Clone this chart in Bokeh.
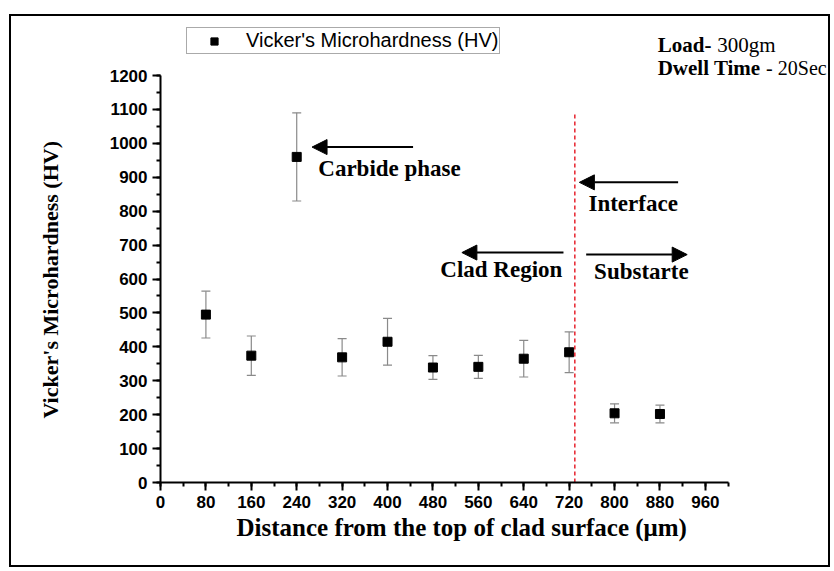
from bokeh.plotting import figure
from bokeh.models import (ColumnDataSource, Range1d, FixedTicker, Whisker, TeeHead,
                          Arrow, NormalHead, Label, Legend, LegendItem, Title)
from bokeh.core.properties import value
from bokeh.embed import file_html
from bokeh.resources import INLINE

# ---- data ----
distance = [80, 160, 240, 320, 400, 480, 560, 640, 720, 800, 880]
hardness = [495, 374, 960, 369, 415, 339, 341, 365, 384, 204, 202]
hv_error = [69, 58, 130, 55, 69, 35, 34, 54, 60, 28, 26]

x_ticks = list(range(0, 961, 80))
x_minor = list(range(0, 1001, 40))
y_ticks = list(range(0, 1201, 100))
y_minor = list(range(0, 1201, 50))

interface_x = [730]
interface_top = [1091]

arrow_x_start = [445, 912, 710, 750]
arrow_x_end = [267, 738, 531, 928]
arrow_y = [989, 885, 678, 672]

note_text = ["Carbide phase", "Interface", "Clad Region", "Substarte"]
note_x = [278, 754, 493, 764]
note_y = [926, 823, 628, 622]

SERIF = "Liberation Serif"
SANS = "Liberation Sans"

p = figure(width=821, height=553, output_backend="svg", toolbar_location=None,
           x_range=Range1d(0, 1184), y_range=Range1d(0, 1374),
           min_border_left=149, min_border_right=0, min_border_top=0, min_border_bottom=87)
p.styles = {"border": "2px solid black", "margin-left": "9px", "margin-top": "14px"}
p.outline_line_color = None
p.grid.visible = False
p.background_fill_color = "white"
p.border_fill_color = "white"

for ax, ticks, minor, bounds in ((p.xaxis, x_ticks, x_minor, (0, 1000)),
                                 (p.yaxis, y_ticks, y_minor, (0, 1200))):
    ax.ticker = FixedTicker(ticks=ticks, minor_ticks=minor)
    ax.bounds = bounds
    ax.axis_line_width = 2
    ax.axis_line_color = "black"
    ax.major_tick_line_width = 2
    ax.minor_tick_line_width = 2
    ax.major_tick_out = 8
    ax.major_tick_in = 0
    ax.minor_tick_out = 4
    ax.minor_tick_in = 0
    ax.major_label_text_font = SANS
    ax.major_label_text_font_style = "bold"
    ax.major_label_text_font_size = "17px"
    ax.major_label_text_color = "black"
    ax.major_label_standoff = 5

# x title placed as a side-panel title (frame extends past the axis bounds)
p.add_layout(Title(text="Distance from the top of clad surface (\u03bcm)", align="left", offset=76,
                   standoff=2, text_font=SERIF, text_font_style="bold", text_font_size="25px",
                   text_color="black"), "below")

# y title as axis label; trailing no-break spaces shift it down to sit over the 0-1200 span
p.yaxis.axis_label = "Vicker's Microhardness (HV)" + "\u00a0" * 11
p.yaxis.axis_label_text_font = SERIF
p.yaxis.axis_label_text_font_style = "bold"
p.yaxis.axis_label_text_font_size = "22px"
p.yaxis.axis_label_text_color = "black"
p.yaxis.axis_label_standoff = 44

src = ColumnDataSource(dict(
    x=distance, y=hardness,
    upper=[h + e for h, e in zip(hardness, hv_error)],
    lower=[h - e for h, e in zip(hardness, hv_error)],
))

ecol = "#8a8a8a"
wh = Whisker(source=src, base="x", upper="upper", lower="lower", line_color=ecol, line_width=1.2,
             upper_head=TeeHead(size=9, line_color=ecol, line_width=1.2),
             lower_head=TeeHead(size=9, line_color=ecol, line_width=1.2), level="underlay")
p.add_layout(wh)

pts = p.scatter("x", "y", source=src, marker="square", size=9, fill_color="black", line_color="black")

# interface dashed line
p.segment(x0=interface_x, y0=[0], x1=interface_x, y1=interface_top,
          line_color="#e8323c", line_width=1.6, line_dash="4 3")

# arrows
asrc = ColumnDataSource(dict(xs=arrow_x_start, xe=arrow_x_end, y=arrow_y))
p.add_layout(Arrow(source=asrc, x_start="xs", y_start="y", x_end="xe", y_end="y",
                   line_color="black", line_width=2,
                   end=NormalHead(size=15, fill_color="black", line_color="black")))

# notes
nsrc = ColumnDataSource(dict(x=note_x, y=note_y, t=note_text))
p.text(x="x", y="y", text="t", source=nsrc, text_font=value(SERIF), text_font_style="bold",
       text_font_size="23px", text_color="black", text_baseline="alphabetic")

# load / dwell notes
for txt, x, y, style, size in (("Load-", 876, 1289, "bold", "21px"), ("300gm", 981, 1289, "normal", "21px"),
                               ("Dwell Time", 876, 1221, "bold", "21px"), ("- 20Sec", 1067, 1221, "normal", "20px")):
    p.add_layout(Label(x=x, y=y, text=txt, text_font=SERIF, text_font_style=style,
                       text_font_size=size, text_color="black", text_baseline="alphabetic"))

legend = Legend(items=[LegendItem(label="Vicker's Microhardness (HV)", renderers=[pts])],
                location=(26, 428), padding=1, margin=0, glyph_width=52, glyph_height=18,
                label_standoff=6, label_text_font=SANS, label_text_font_size="20px",
                label_text_color="black", border_line_color="#555555", border_line_width=1,
                background_fill_alpha=1)
p.add_layout(legend, "center")

open("out.html", "w").write(file_html(p, INLINE))
